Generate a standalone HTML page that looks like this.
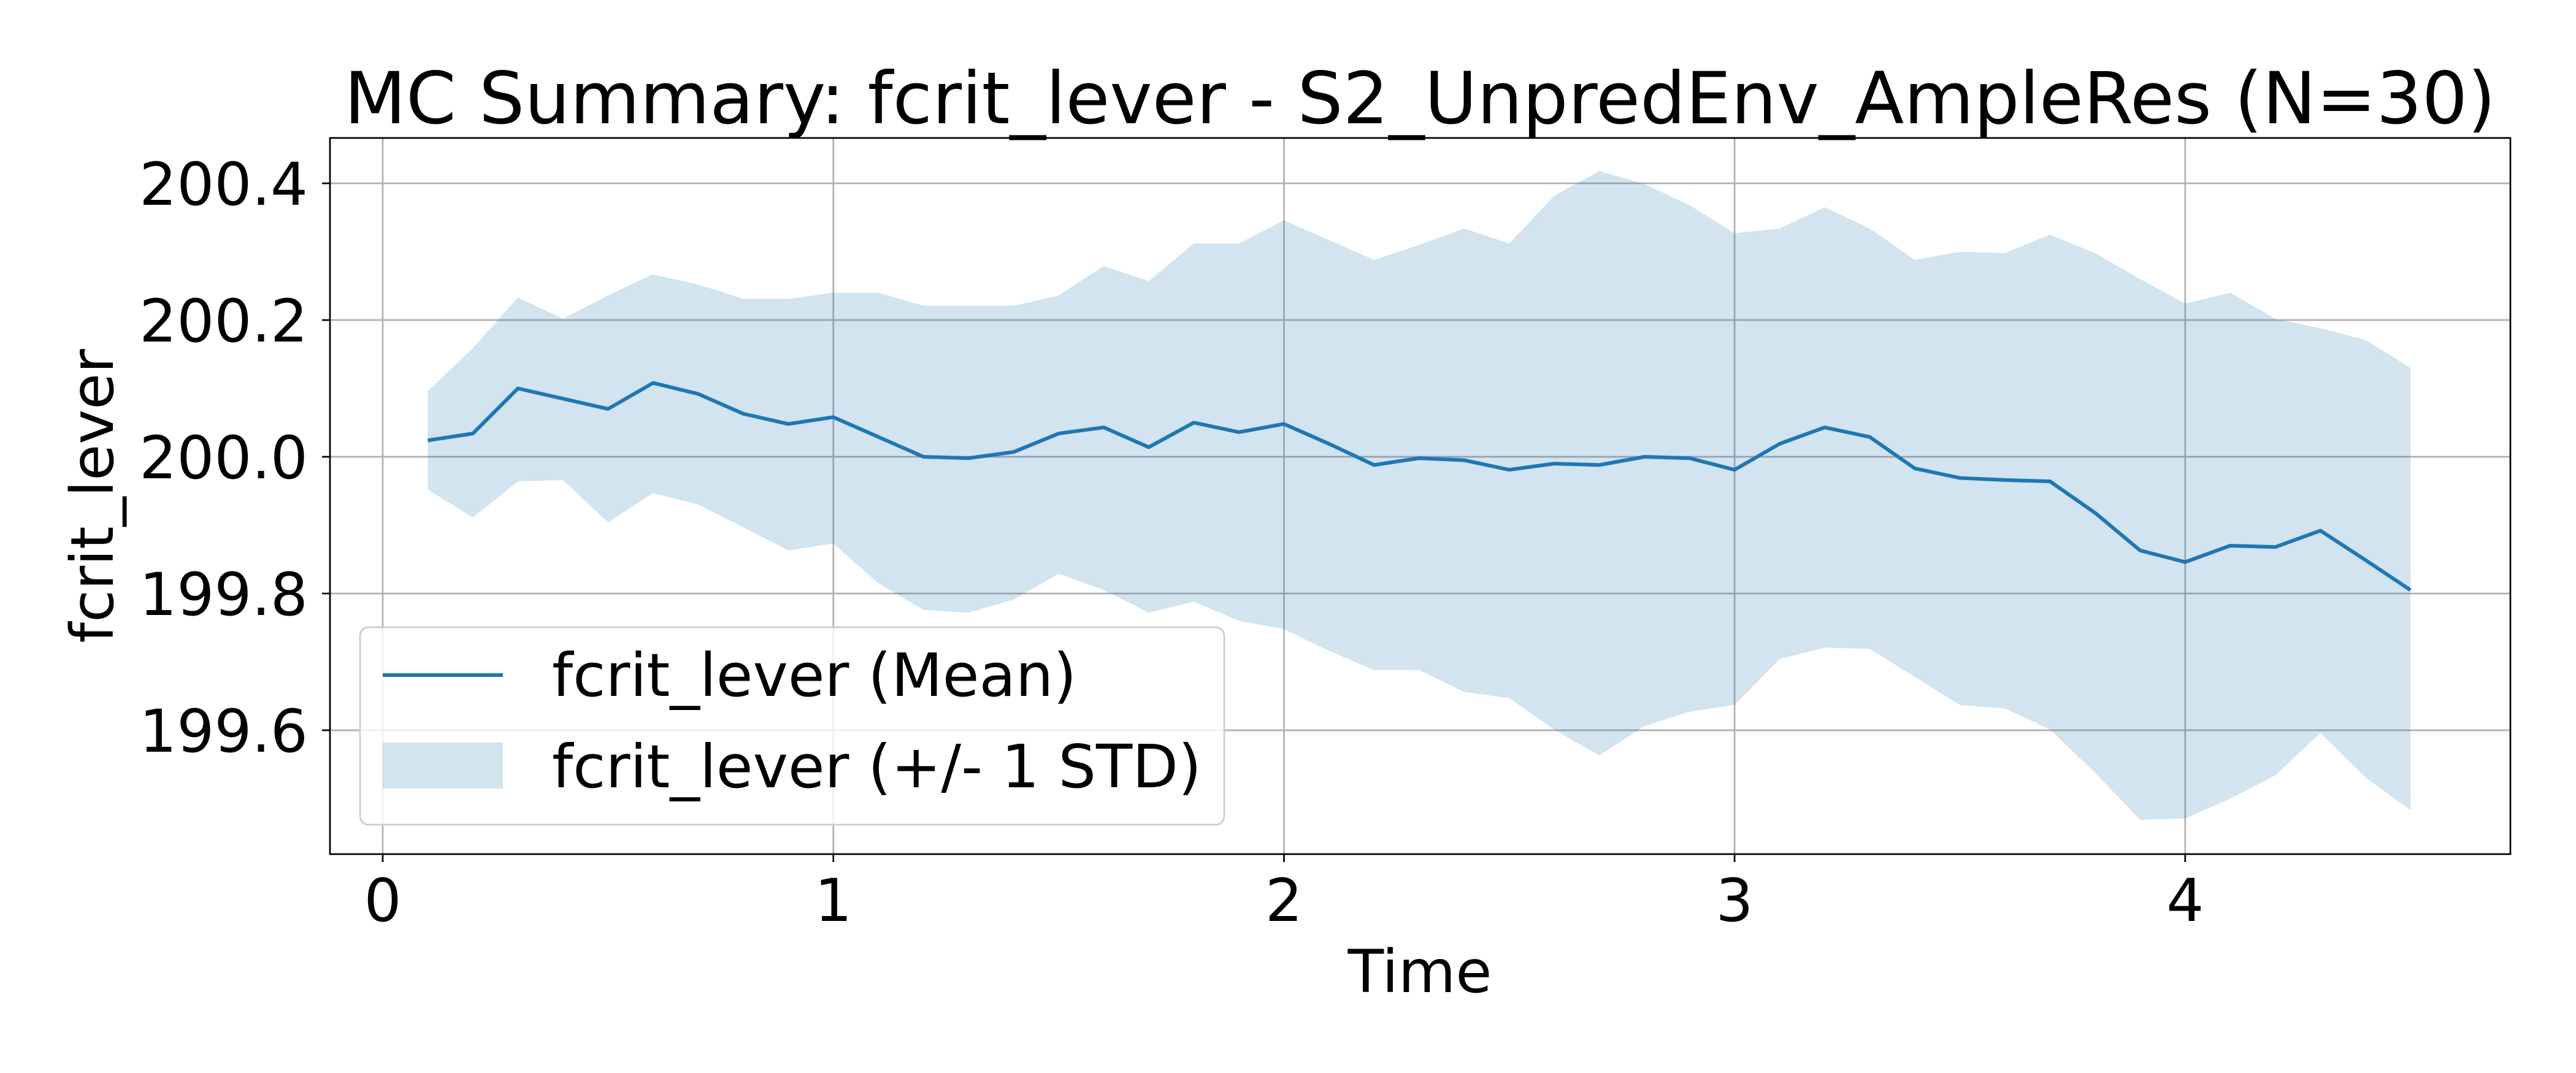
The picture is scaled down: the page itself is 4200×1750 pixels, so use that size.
<!DOCTYPE html>
<html><head><meta charset="utf-8"><style>
html,body{margin:0;padding:0;background:#fff;}
svg{display:block;font-family:"DejaVu Sans","Liberation Sans",sans-serif;}
</style></head><body>
<svg id="chart" width="4200" height="1750" viewBox="0 0 4200 1750" xmlns="http://www.w3.org/2000/svg">
<rect width="4200" height="1750" fill="#fff"/>
<g id="grid"></g>
<g id="band"></g>
<g id="line"></g>
<rect x="538" y="225" width="3555" height="1168" fill="none" stroke="#000" stroke-width="2.7"/>
<g id="ticks"></g>
<text x="2315" y="201" font-size="117" text-anchor="middle">MC Summary: fcrit_lever - S2_UnpredEnv_AmpleRes (N=30)</text>
<text x="2315" y="1618" font-size="96" text-anchor="middle">Time</text>
<text x="0" y="0" font-size="96" text-anchor="middle" transform="translate(184,809) rotate(-90)">fcrit_lever</text>
<g>
<rect x="587" y="1023" width="1409" height="322" rx="14" fill="#fff" fill-opacity="0.8" stroke="#ccc" stroke-width="2.7"/>
<line x1="624" y1="1101" x2="820" y2="1101" stroke="#1f77b4" stroke-width="6"/>
<text x="900" y="1135" font-size="97">fcrit_lever (Mean)</text>
<rect x="624" y="1211" width="196" height="75" fill="#1f77b4" fill-opacity="0.2"/>
<text x="900" y="1284" font-size="97">fcrit_lever (+/- 1 STD)</text>
</g>
</svg>
<script>
const times = [0.1,0.2,0.3,0.4,0.5,0.6,0.7,0.8,0.9,1.0,1.1,1.2,1.3,1.4,1.5,1.6,1.7,1.8,1.9,2.0,2.1,2.2,2.3,2.4,2.5,2.6,2.7,2.8,2.9,3.0,3.1,3.2,3.3,3.4,3.5,3.6,3.7,3.8,3.9,4.0,4.1,4.2,4.3,4.4,4.5];
const meanVals = [200.024,200.034,200.10,200.085,200.07,200.108,200.092,200.063,200.048,200.058,200.029,200.0,199.998,200.007,200.034,200.043,200.014,200.05,200.036,200.048,200.019,199.988,199.998,199.995,199.981,199.99,199.988,200.0,199.998,199.981,200.019,200.043,200.029,199.983,199.969,199.966,199.964,199.918,199.863,199.846,199.87,199.868,199.892,199.849,199.805];
const upperVals = [200.096,200.159,200.233,200.202,200.236,200.267,200.252,200.231,200.231,200.24,200.24,200.221,200.221,200.221,200.236,200.279,200.257,200.312,200.312,200.346,200.317,200.288,200.31,200.334,200.312,200.382,200.418,200.399,200.368,200.327,200.334,200.365,200.334,200.288,200.3,200.298,200.325,200.298,200.26,200.224,200.24,200.202,200.188,200.171,200.13];
const lowerVals = [199.952,199.911,199.964,199.966,199.904,199.947,199.93,199.897,199.863,199.873,199.815,199.776,199.772,199.791,199.829,199.805,199.772,199.788,199.76,199.748,199.716,199.688,199.688,199.656,199.647,199.601,199.563,199.606,199.627,199.637,199.704,199.721,199.719,199.678,199.637,199.632,199.601,199.538,199.469,199.471,199.5,199.534,199.596,199.531,199.483];
const xTicks = [0,1,2,3,4];
const yTicks = [199.6,199.8,200.0,200.2,200.4];
const yTickLabels = ["199.6","199.8","200.0","200.2","200.4"];

const NS = "http://www.w3.org/2000/svg";
function xs(t){ return 624 + t*734.7; }
function ys(v){ return 745 - (v-200)*1115; }
function mk(tag, attrs, parent){
  const e = document.createElementNS(NS, tag);
  for (const k in attrs) e.setAttribute(k, attrs[k]);
  parent.appendChild(e); return e;
}
const grid = document.getElementById('grid');
const ticks = document.getElementById('ticks');
xTicks.forEach(t=>{
  const g = mk('line',{x1:xs(t),x2:xs(t),y1:225,y2:1393,stroke:'#b0b0b0','stroke-width':2.7},grid);
  
  
  const tk = mk('line',{x1:xs(t),x2:xs(t),y1:1393,y2:1406,stroke:'#000','stroke-width':2.7},ticks);
  
  
  const tx = mk('text',{x:xs(t),y:1502,'font-size':96,'text-anchor':'middle'},ticks);
  tx.textContent = String(t);
  
  
});
yTicks.forEach((v,i)=>{
  const g = mk('line',{x1:538,x2:4093,y1:ys(v),y2:ys(v),stroke:'#b0b0b0','stroke-width':2.7},grid);
  
  
  const tk = mk('line',{x1:525,x2:538,y1:ys(v),y2:ys(v),stroke:'#000','stroke-width':2.7},ticks);
  
  
  const tx = mk('text',{x:502,y:ys(v)+35,'font-size':96,'text-anchor':'end'},ticks);
  tx.textContent = yTickLabels[i];
  
  
});
let d = '';
times.forEach((t,i)=>{ d += (i?'L':'M') + xs(t) + ',' + ys(upperVals[i]); });
for (let i=times.length-1;i>=0;i--) d += 'L' + xs(times[i]) + ',' + ys(lowerVals[i]);
d += 'Z';
const band = mk('path',{d:d,fill:'#1f77b4','fill-opacity':0.2},document.getElementById('band'));


const pts = times.map((t,i)=>xs(t)+','+ys(meanVals[i])).join(' ');
const ln = mk('polyline',{points:pts,fill:'none',stroke:'#1f77b4','stroke-width':6,'stroke-linejoin':'round'},document.getElementById('line'));


</script>
</body></html>
